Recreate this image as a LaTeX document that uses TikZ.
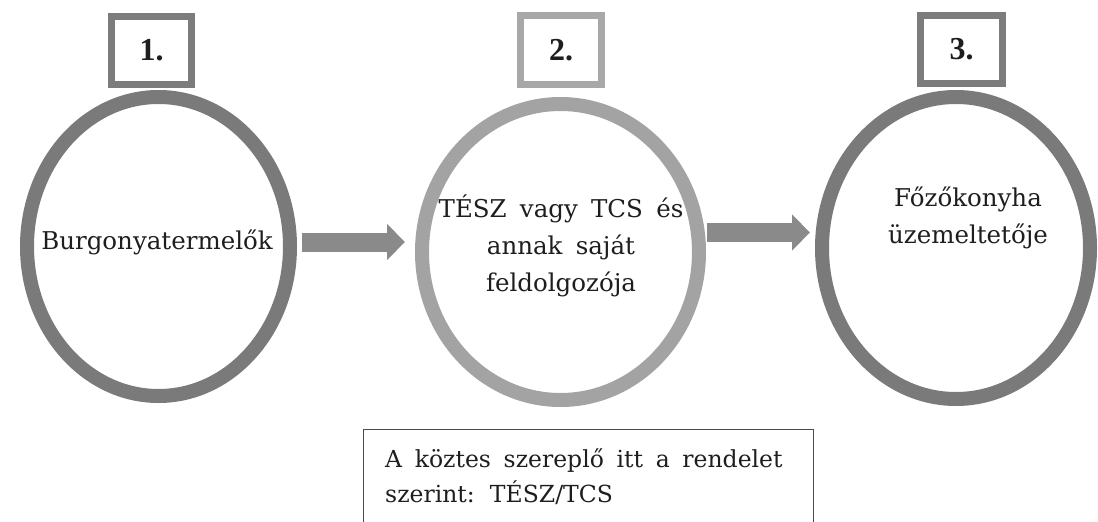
\documentclass[tikz,border=0pt]{standalone}
\usepackage{fontspec}
\setmainfont{Liberation Serif}
\newfontfamily\circfont{DejaVu Serif}
\newfontfamily\notefont[WordSpace=1.7]{DejaVu Serif}
\usetikzlibrary{arrows.meta,shapes.geometric,calc}
\definecolor{ringdark}{HTML}{7A7A7A}
\definecolor{ringlight}{HTML}{A3A3A3}
\definecolor{boxdark}{HTML}{7C7C7C}
\definecolor{boxlight}{HTML}{A8A8A8}
\definecolor{arrowgray}{HTML}{8A8A8A}
\definecolor{txt}{HTML}{1E1E1E}
\begin{document}
\begin{tikzpicture}[x=1pt,y=-1pt,
  ring/.style={draw=#1, line width=14pt, ellipse, inner sep=0pt},
  numbox/.style={draw=#1, line width=7pt, fill=white, inner sep=0pt, text=txt,
    font=\fontsize{32}{36}\selectfont\bfseries},
  ctext/.style={align=center, inner sep=0pt, text=txt,
    font=\circfont\fontsize{24.5}{37}\selectfont},
  notetext/.style={align=left, inner sep=0pt, text=txt,
    font=\notefont\fontsize{23.5}{35}\selectfont},
  flow/.style={draw=arrowgray, line width=19pt, -{Triangle[width=35pt,length=18pt]}},
]
\clip (0,0) rectangle (1098,522);
\fill[white] (0,0) rectangle (1098,522);

% rings
\node[ring=ringdark, minimum width=263pt, minimum height=299pt] (c1) at (158.5,246.5) {};
\node[ring=ringlight, minimum width=277pt, minimum height=296pt] (c2) at (560.5,252) {};
\node[ring=ringdark, minimum width=268pt, minimum height=302pt] (c3) at (956,248) {};

% number boxes
\node[numbox=boxdark, minimum width=80pt, minimum height=68pt] (b1) at (151.5,50.5) {1.};
\node[numbox=boxlight, minimum width=81pt, minimum height=69pt] (b2) at (561,50) {2.};
\node[numbox=boxdark, minimum width=82pt, minimum height=68pt] (b3) at (961.5,49.5) {3.};

% texts in rings
\node[ctext] (t1) at (157,242) {Burgonyatermelők};
\node[ctext] (t2) at (561,246) {TÉSZ vagy TCS és\\annak saját\\feldolgozója};
\node[ctext] (t3) at (968,217.5) {Főzőkonyha\\üzemeltetője};

% arrows
\draw[flow] ($(c1.east)+(5,-4.5)$) -- ($(c1.east -| c2.west)+(-10,-4.5)$);
\draw[flow] ($(c2.east)+(1,-19.5)$) -- ($(c2.east -| c3.west)+(-5,-19.5)$);

% note box
\node[draw=txt!80, line width=1pt, minimum width=450pt, minimum height=130pt,
  anchor=north west, inner sep=0pt] (note) at (363,429) {};
\node[notetext, anchor=north west] (notet) at (385,448)
  {A köztes szereplő itt a rendelet\\szerint: TÉSZ/TCS};
\end{tikzpicture}
\end{document}
